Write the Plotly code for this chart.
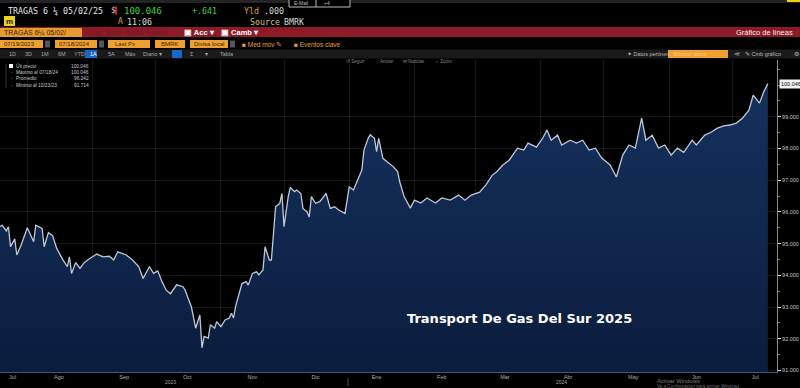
import plotly.graph_objects as go

# ---------------- data ----------------
dates = [
    "2023-07-19", "2023-07-20", "2023-07-22", "2023-07-23", "2023-07-24", "2023-07-26", "2023-07-27", "2023-07-29",
    "2023-08-01", "2023-08-02", "2023-08-04", "2023-08-05", "2023-08-08", "2023-08-09", "2023-08-11", "2023-08-13",
    "2023-08-15", "2023-08-18", "2023-08-20", "2023-08-21", "2023-08-22", "2023-08-24", "2023-08-26", "2023-08-28",
    "2023-08-30", "2023-09-03", "2023-09-06", "2023-09-09", "2023-09-11", "2023-09-13", "2023-09-17", "2023-09-20",
    "2023-09-23", "2023-09-25", "2023-09-28", "2023-09-30", "2023-10-02", "2023-10-04", "2023-10-06", "2023-10-08",
    "2023-10-11", "2023-10-14", "2023-10-15", "2023-10-18", "2023-10-20", "2023-10-22", "2023-10-23", "2023-10-24",
    "2023-10-26", "2023-10-27", "2023-10-29", "2023-10-30", "2023-11-01", "2023-11-03", "2023-11-05", "2023-11-06",
    "2023-11-07", "2023-11-08", "2023-11-11", "2023-11-13", "2023-11-14", "2023-11-16", "2023-11-18", "2023-11-19",
    "2023-11-21", "2023-11-22", "2023-11-24", "2023-11-25", "2023-11-27", "2023-11-29", "2023-11-30", "2023-12-01",
    "2023-12-03", "2023-12-04", "2023-12-06", "2023-12-07", "2023-12-09", "2023-12-10", "2023-12-12", "2023-12-13",
    "2023-12-14", "2023-12-16", "2023-12-18", "2023-12-21", "2023-12-23", "2023-12-25", "2023-12-27", "2023-12-30",
    "2024-01-01", "2024-01-03", "2024-01-05", "2024-01-07", "2024-01-08", "2024-01-10", "2024-01-11", "2024-01-13",
    "2024-01-14", "2024-01-15", "2024-01-17", "2024-01-19", "2024-01-22", "2024-01-24", "2024-01-25", "2024-01-27",
    "2024-01-30", "2024-02-01", "2024-02-04", "2024-02-07", "2024-02-11", "2024-02-14", "2024-02-18", "2024-02-22",
    "2024-02-25", "2024-02-28", "2024-03-03", "2024-03-06", "2024-03-09", "2024-03-11", "2024-03-14", "2024-03-17",
    "2024-03-21", "2024-03-24", "2024-03-26", "2024-03-30", "2024-04-02", "2024-04-04", "2024-04-06", "2024-04-09",
    "2024-04-11", "2024-04-15", "2024-04-18", "2024-04-21", "2024-04-24", "2024-04-27", "2024-04-30", "2024-05-04",
    "2024-05-07", "2024-05-10", "2024-05-13", "2024-05-16", "2024-05-19", "2024-05-21", "2024-05-24", "2024-05-27",
    "2024-05-30", "2024-06-02", "2024-06-05", "2024-06-08", "2024-06-12", "2024-06-14", "2024-06-18", "2024-06-21",
    "2024-06-24", "2024-06-27", "2024-06-30", "2024-07-03", "2024-07-06", "2024-07-09", "2024-07-11", "2024-07-14",
    "2024-07-16", "2024-07-18",
]
prices = [
    95.53, 95.58, 95.40, 95.53, 94.90, 95.15, 94.64, 94.95,
    95.50, 95.37, 95.06, 95.58, 95.48, 94.90, 95.35, 95.25,
    94.84, 94.48, 94.27, 94.58, 94.06, 94.40, 94.22, 94.40,
    94.50, 94.67, 94.58, 94.60, 94.48, 94.74, 94.64, 94.48,
    94.27, 93.90, 94.27, 94.06, 94.14, 93.80, 93.53, 93.42,
    93.70, 93.64, 93.53, 93.00, 92.33, 92.75, 91.714, 92.07,
    92.02, 92.44, 92.33, 92.54, 92.38, 92.59, 92.65, 92.80,
    92.65, 93.02, 93.74, 93.80, 93.69, 94.06, 94.11, 94.01,
    94.17, 94.90, 94.48, 94.48, 96.16, 96.27, 96.58, 95.53,
    96.48, 96.77, 96.64, 96.69, 96.58, 96.11, 96.00, 95.84,
    96.48, 96.27, 96.32, 96.58, 96.11, 96.16, 96.06, 95.95,
    96.79, 96.69, 96.98, 97.32, 97.95, 98.32, 98.43, 98.32,
    97.90, 98.32, 97.69, 97.58, 97.42, 97.27, 96.95, 96.50,
    96.12, 96.37, 96.28, 96.44, 96.28, 96.44, 96.37, 96.53,
    96.37, 96.53, 96.62, 96.85, 97.16, 97.26, 97.48, 97.63,
    98.01, 97.95, 98.17, 98.04, 98.33, 98.58, 98.26, 98.42,
    98.11, 98.26, 98.17, 98.26, 97.95, 98.01, 97.70, 97.48,
    97.10, 97.79, 98.11, 98.01, 98.96, 98.26, 98.42, 98.01,
    98.11, 97.79, 98.01, 97.88, 98.26, 98.11, 98.42, 98.51,
    98.64, 98.71, 98.74, 98.80, 98.96, 99.21, 99.68, 99.43,
    99.78, 100.046,
]

month_starts = ["2023-08-01", "2023-09-01", "2023-10-01", "2023-11-01", "2023-12-01", "2024-01-01",
                "2024-02-01", "2024-03-01", "2024-04-01", "2024-05-01", "2024-06-01", "2024-07-01"]
month_label_pos = ["2023-07-25", "2023-08-16", "2023-09-16", "2023-10-16", "2023-11-16", "2023-12-16",
                   "2024-01-14", "2024-02-14", "2024-03-15", "2024-04-14", "2024-05-15", "2024-06-14", "2024-07-12"]
month_labels = ["Jul", "Ago", "Sep", "Oct", "Nov", "Dic", "Ene", "Feb", "Mar", "Abr", "May", "Jun", "Jul"]
year_labels = ["2023", "2024"]
year_label_pos = ["2023-10-08", "2024-04-11"]
y_ticks = [91, 92, 93, 94, 95, 96, 97, 98, 99]

legend_names = ["Últ precio", "Máximo al 07/18/24", "Promedio", "Mínimo al 10/23/23"]
legend_values = ["100.046", "100.046", "96.242", "91.714"]
last_price = 100.046
title_text = "Transport De Gas Del Sur 2025"

W, H = 800, 388
SANS = "Liberation Sans, Arial, sans-serif"
MONO = "DejaVu Sans Mono, monospace"


def px(x):
    return x / W


def py(y):
    return 1 - y / H


annotations = []
shapes = []


def T(x, y, text, size=7, color="#dddddd", anchor="left", font=SANS):
    annotations.append(dict(xref="paper", yref="paper", x=px(x), y=py(y), xanchor=anchor, yanchor="middle",
                            text=text, showarrow=False, font=dict(size=size, color=color, family=font)))


def R(x0, y0, x1, y1, fill=None, line=None, lw=1):
    shapes.append(dict(type="rect", xref="paper", yref="paper", x0=px(x0), x1=px(x1), y0=py(y1), y1=py(y0),
                       fillcolor=fill if fill else "rgba(0,0,0,0)",
                       line=dict(color=line if line else "rgba(0,0,0,0)", width=lw if line else 0),
                       layer="above"))


def L(x0, y0, x1, y1, color, lw=1):
    shapes.append(dict(type="line", xref="paper", yref="paper", x0=px(x0), x1=px(x1), y0=py(y0), y1=py(y1),
                       line=dict(color=color, width=lw), layer="above"))


# ---------------- header (Bloomberg style) ----------------
R(0, 0, 800, 3, "#242424")
R(787, 0, 800, 2, "#f2d000")
R(289, -2, 350, 7, "#000000", "#bbbbbb")
T(292, 3, "E-Mail", 5, "#bbbbbb")
L(316, 0, 316, 7, "#bbbbbb")
T(322, 3, "+4", 5, "#bbbbbb")

T(6, 10.5, "TRAGAS 6 ¼ 05/02/25", 8.3, "#e6e6e6", font=MONO)
T(109, 10.5, "$", 8, "#d0d0d0", font=MONO)
R(115, 6.5, 117, 14.5, "#c8202c")
T(122, 10.5, "100.046", 9, "#3cd43c", font=MONO)
T(190, 10.5, "+.641", 8.3, "#3cd43c", font=MONO)
T(242, 10.5, "Yld", 8.3, "#e0a030", font=MONO)
T(262, 10.5, ".000", 8.3, "#d8d8d8", font=MONO)

R(4, 16, 15, 26, "#f0d020")
T(9.5, 21, "<b>m</b>", 8, "#222222", anchor="center")
T(116, 21.5, "A", 8, "#e0a030", font=MONO)
T(125, 21.5, "11:06", 8.3, "#d8d8d8", font=MONO)
T(248, 21.5, "Source", 8.3, "#d0c070", font=MONO)
T(282, 21.5, "BMRK", 8.3, "#d8d8d8", font=MONO)

R(0, 27, 800, 37, "#8e1a25")
R(0, 28, 82, 37, "#e89b30")
T(2, 32.5, "TRAGAS 6¼ 05/02/", 7, "#3a2200")
T(86, 32.5, "Corp  Bono  Precio  Fuente", 6.5, "#6a1c22")
T(182, 32.5, "<b>▣ Acc ▾</b>", 7.5, "#ffffff")
T(219, 32.5, "<b>▣ Camb ▾</b>", 7.5, "#ffffff")
T(795, 32.5, "Gráfico de líneas", 7.5, "#f0f0f0", anchor="right")

R(0, 40, 43, 48, "#f0a030")
T(2, 44, "07/19/2023", 6, "#3a2200")
R(45, 40.5, 50, 47.5, "#555555")
R(55, 40, 97, 48, "#f0a030")
T(57, 44, "07/18/2024", 6, "#3a2200")
R(99, 40.5, 104, 47.5, "#555555")
R(108, 40, 150, 48, "#f0a030")
T(113, 44, "Last Px", 6, "#3a2200")
R(155, 40, 185, 48, "#f0a030")
T(159, 44, "BMRK", 6, "#3a2200")
R(190, 40, 228, 48, "#f0a030")
T(192, 44, "Divisa local", 6, "#3a2200")
R(230, 40.5, 235, 47.5, "#555555")
T(240, 44, "■ Med móv ✎", 6.5, "#e0a030")
T(292, 44, "■ Eventos clave", 6.5, "#e0a030")

R(0, 49.5, 800, 58.5, "#1a1a1a")
for x, lab in [(7, "1D"), (23, "3D"), (39, "1M"), (56, "6M"), (72, "YTD"), (106, "5A"), (123, "Máx"),
               (141, "Diario ▾"), (188, "Σ"), (203, "▾"), (218, "Tabla")]:
    T(x, 54, lab, 5.5, "#a8a8a8")
R(85, 50, 97, 58, "#1667c8")
T(88, 54, "1A", 5.5, "#ffffff")
R(172, 50, 182, 58, "#1667c8")
T(625, 54, "✦ Datos pertinent", 5.5, "#b8b8b8")
R(668, 50, 728, 58, "#f0a030")
T(671, 54, "Mostrar datos", 5.5, "#f8c880")
T(732, 54, "≪", 6, "#b8b8b8")
T(743, 54, "✎ Cmb gráfico", 5.5, "#b8b8b8")
T(796, 54, "⚙", 6, "#b8b8b8", anchor="center")

# chart toolbar
for x, lab in [(344, "↺ Seguir"), (374, "⟋ Anotar"), (401, "✉ Noticias"), (434, "⌕ Zoom")]:
    T(x, 62, lab, 4.5, "#8a8a8a")

# legend box
L(6, 64, 6, 88, "#3a3a3a")
R(9, 64, 13, 68, "#ffffff")
for i, (name, val) in enumerate(zip(legend_names, legend_values)):
    yy = 66 + i * 6.5
    if i > 0:
        T(9, yy, "-", 4.5, "#999999")
    T(14, yy, name, 4.8, "#c8c8c8")
    T(91, yy, val, 4.8, "#c8c8c8", anchor="right")

# title annotation
T(519, 318, "<b>" + title_text + "</b>", 13, "#ffffff", anchor="center", font="DejaVu Sans, Verdana, sans-serif")

# watermark (below the month labels)
T(655, 380.5, "Activar Windows", 5.8, "#7c7c7c")
T(655, 386, "Ve a Configuración para activar Windows.", 4.5, "#6c6c6c")

# year separator
L(348, 378, 348, 386, "#505050")

# last price label
annotations.append(dict(xref="paper", yref="y", x=px(779), y=last_price, xanchor="left", yanchor="middle",
                        text=f"{last_price:.3f}", showarrow=False, bgcolor="#f2f2f2",
                        font=dict(size=5.5, color="#111111", family=SANS), borderpad=1))

# year labels (data x coords)
for pos, lab in zip(year_label_pos, year_labels):
    annotations.append(dict(xref="x", yref="paper", x=pos, y=py(381.5), xanchor="center", yanchor="middle",
                            text=lab, showarrow=False, font=dict(size=5, color="#a0a0a0", family=SANS)))

# ---------------- figure ----------------
fig = go.Figure()
fig.add_trace(go.Scatter(
    x=dates, y=prices, mode="lines",
    line=dict(color="#bfc8d8", width=1.3),
    fill="tozeroy",
    fillgradient=dict(type="vertical", start=91, stop=100.5,
                      colorscale=[[0, "#0b1d3d"], [1, "#16325f"]]),
    hoverinfo="skip", showlegend=False,
))
# invisible trace for month label axis
fig.add_trace(go.Scatter(x=[dates[0], dates[-1]], y=[None, None], xaxis="x2", showlegend=False, hoverinfo="skip"))

x_range = ["2023-07-19", "2024-07-22 08:00"]
fig.update_layout(
    width=W, height=H,
    margin=dict(l=0, r=0, t=0, b=0),
    paper_bgcolor="#000000", plot_bgcolor="#000000",
    showlegend=False,
    xaxis=dict(domain=[0, 777 / W], range=x_range, type="date",
               tickvals=month_starts, showticklabels=False, ticks="",
               showgrid=True, gridcolor="rgba(255,255,255,0.09)", gridwidth=1,
               showline=True, linecolor="#3b5a86", linewidth=1, zeroline=False, fixedrange=True),
    xaxis2=dict(overlaying="x", anchor="y", side="bottom", range=x_range, type="date",
                tickvals=month_label_pos, ticktext=month_labels, ticks="", showgrid=False,
                showline=False, zeroline=False,
                tickfont=dict(size=5.5, color="#b0b0b0", family=SANS)),
    yaxis=dict(domain=[16 / H, 328 / H], range=[90.95, 100.79], side="right",
               tickvals=y_ticks, tickformat=".3f", ticks="outside", ticklen=3, tickcolor="#dddddd",
               tickfont=dict(size=5.5, color="#c8c8c8", family=SANS),
               showgrid=True, gridcolor="rgba(255,255,255,0.09)", gridwidth=1,
               showline=True, linecolor="#8a8a8a", linewidth=1, zeroline=False,
               minor=dict(dtick=0.5, tick0=91, ticks="outside", ticklen=2, tickcolor="#777777", showgrid=False)),
    annotations=annotations,
    shapes=shapes,
)

fig.write_html("out.html")
